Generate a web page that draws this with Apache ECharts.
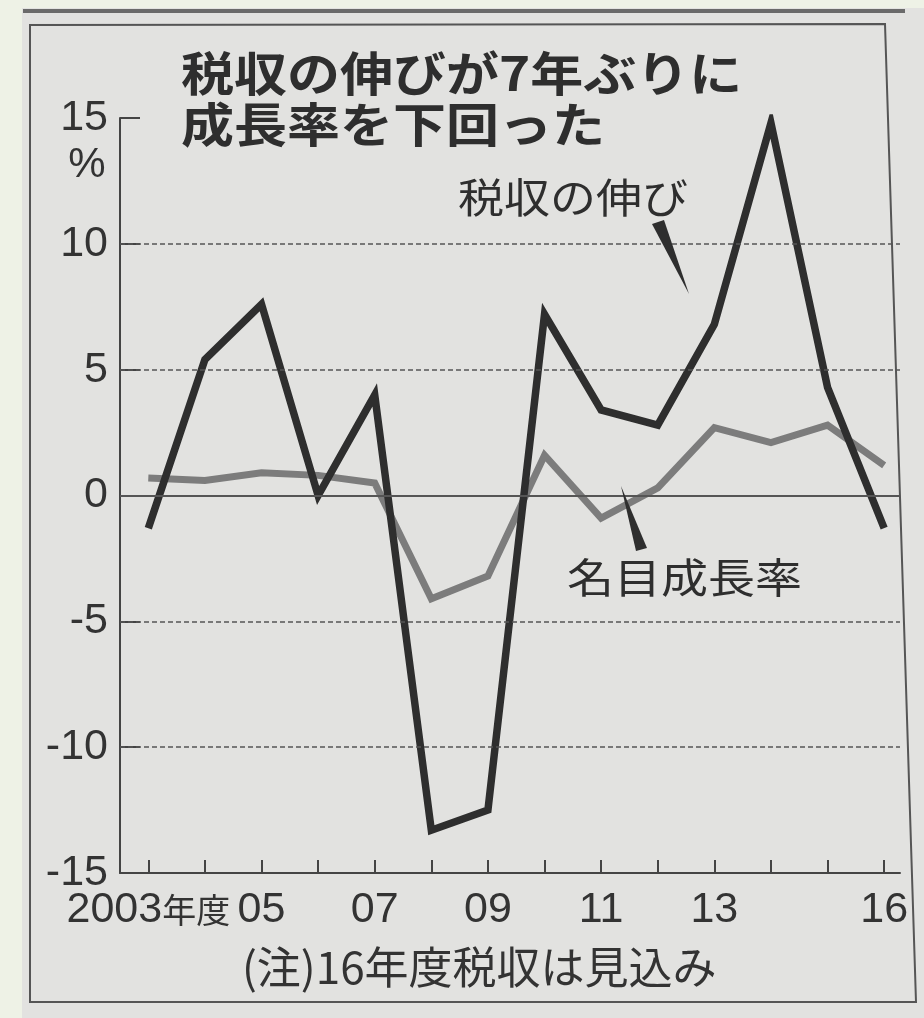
<!DOCTYPE html>
<html><head><meta charset="utf-8">
<script src="https://cdn.jsdelivr.net/npm/echarts@6/dist/echarts.min.js"></script>
<style>html,body{margin:0;padding:0;background:#eef2e6;} #c{width:924px;height:1018px;}</style>
</head><body><div id="c"></div>
<script>
// ---- data ----
const years = [2003, 2004, 2005, 2006, 2007, 2008, 2009, 2010, 2011, 2012, 2013, 2014, 2015, 2016];
const taxGrowth = [-1.3, 5.4, 7.6, 0.0, 4.0, -13.3, -12.5, 7.2, 3.4, 2.8, 6.8, 14.8, 4.3, -1.3];
const nominalGrowth = [0.7, 0.6, 0.9, 0.8, 0.5, -4.1, -3.2, 1.6, -0.9, 0.3, 2.7, 2.1, 2.8, 1.2];
const xLabelYears = [2003, 2005, 2007, 2009, 2011, 2013, 2016];
const xLabelTexts = ['2003年度', '05', '07', '09', '11', '13', '16'];
const yGridValues = [10, 5, -5, -10];
const titleLines = ['税収の伸びが7年ぶりに', '成長率を下回った'];
const seriesNames = ['税収の伸び', '名目成長率'];
const note = '(注)16年度税収は見込み';

const NUM_FONT = '"Liberation Sans Narrow", "Arial Narrow", "Liberation Sans", Arial, sans-serif';
const JP_FONT = '"Noto Sans CJK JP", "Noto Sans CJK SC", sans-serif';
const INK = '#2e2e2e';

const chart = echarts.init(document.getElementById('c'), null, {renderer: 'canvas'});

const pairs = (vals) => years.map((y, i) => [y, vals[i]]);

const option = {
  backgroundColor: '#eef2e6',
  animation: false,
  grid: {left: 120, top: 118, right: 24, bottom: 145, containLabel: false},
  xAxis: {
    type: 'value', min: 2002.5, max: 2016.28,
    axisLine: {show: true, onZero: false, lineStyle: {color: '#444', width: 2}},
    axisTick: {show: true, inside: true, length: 13, customValues: years, lineStyle: {color: '#444', width: 2}},
    axisLabel: {
      show: true, customValues: xLabelYears, margin: 16, showMinLabel: true, showMaxLabel: true, hideOverlap: false,
      formatter: (v) => {
        const t = xLabelTexts[xLabelYears.indexOf(Math.round(v))] || '';
        return t.replace(/^(\d+)(年度)$/, '{d|$1}{c|$2}').replace(/^(\d+)$/, '{d|$1}');
      },
      rich: {
        d: {fontFamily: NUM_FONT, fontSize: 43, color: '#333'},
        c: {fontFamily: JP_FONT, fontSize: 34, color: '#333'}
      }
    },
    splitLine: {show: false}
  },
  yAxis: {
    type: 'value', min: -15, max: 15, interval: 5,
    axisLine: {show: true, lineStyle: {color: '#444', width: 2}},
    axisTick: {show: true, inside: true, length: 20, lineStyle: {color: '#444', width: 2}},
    axisLabel: {fontFamily: NUM_FONT, fontSize: 43, color: '#333', margin: 12, showMinLabel: true, hideOverlap: false},
    splitLine: {show: false}
  },
  series: [
    {
      name: seriesNames[1], type: 'line', data: pairs(nominalGrowth), showSymbol: false, symbol: 'none',
      lineStyle: {color: '#7c7c7c', width: 7, join: 'miter'}, z: 3,
      markLine: {
        silent: true, symbol: 'none', label: {show: false},
        data: yGridValues.map(v => ({yAxis: v, lineStyle: {type: [5, 3], color: '#555', width: 1.6}}))
          .concat([{yAxis: 0, lineStyle: {type: 'solid', color: '#555', width: 2}}])
      }
    },
    {
      name: seriesNames[0], type: 'line', data: pairs(taxGrowth), showSymbol: false, symbol: 'none',
      lineStyle: {color: INK, width: 7.5, join: 'miter'}, z: 4
    }
  ],
  graphic: [
    {type: 'rect', z: -20, shape: {x: 22, y: 8, width: 902, height: 1010}, style: {fill: '#e2e2e0'}},
    {type: 'line', z: -5, shape: {x1: 23, y1: 11, x2: 905, y2: 11}, style: {stroke: '#6a6a6a', lineWidth: 4}},
    {type: 'polygon', z: -5, shape: {points: [[30, 25], [885, 24], [916, 1002], [30, 1002]]},
      style: {fill: 'none', stroke: '#555', lineWidth: 2}},
    {type: 'text', x: 181, y: 73, scaleY: 0.88, style: {text: titleLines[0], font: 'bold 53px ' + JP_FONT, fill: INK, textVerticalAlign: 'middle', textAlign: 'left'}},
    {type: 'text', x: 181, y: 124, scaleY: 0.88, style: {text: titleLines[1], font: 'bold 53px ' + JP_FONT, fill: INK, textVerticalAlign: 'middle', textAlign: 'left'}},
    {type: 'text', x: 87, y: 165, style: {text: '%', font: '42px ' + NUM_FONT, fill: '#333', textVerticalAlign: 'middle', textAlign: 'center'}},
    {type: 'text', x: 458, y: 198, scaleY: 0.88, style: {text: seriesNames[0], font: '46px ' + JP_FONT, fill: INK, textVerticalAlign: 'middle', textAlign: 'left'}},
    {type: 'polygon', z: 10, shape: {points: [[652, 224], [664, 220], [689, 294]]}, style: {fill: INK}},
    {type: 'text', x: 567, y: 577, scaleY: 0.88, style: {text: seriesNames[1], font: '47px ' + JP_FONT, fill: INK, textVerticalAlign: 'middle', textAlign: 'left'}},
    {type: 'polygon', z: 10, shape: {points: [[621, 486], [636, 551], [647, 548]]}, style: {fill: INK}},
    {type: 'text', x: 242, y: 967, style: {text: note, font: '44px ' + JP_FONT, fill: '#333', textVerticalAlign: 'middle', textAlign: 'left'}}
  ]
};
chart.setOption(option);
</script>
</body></html>
